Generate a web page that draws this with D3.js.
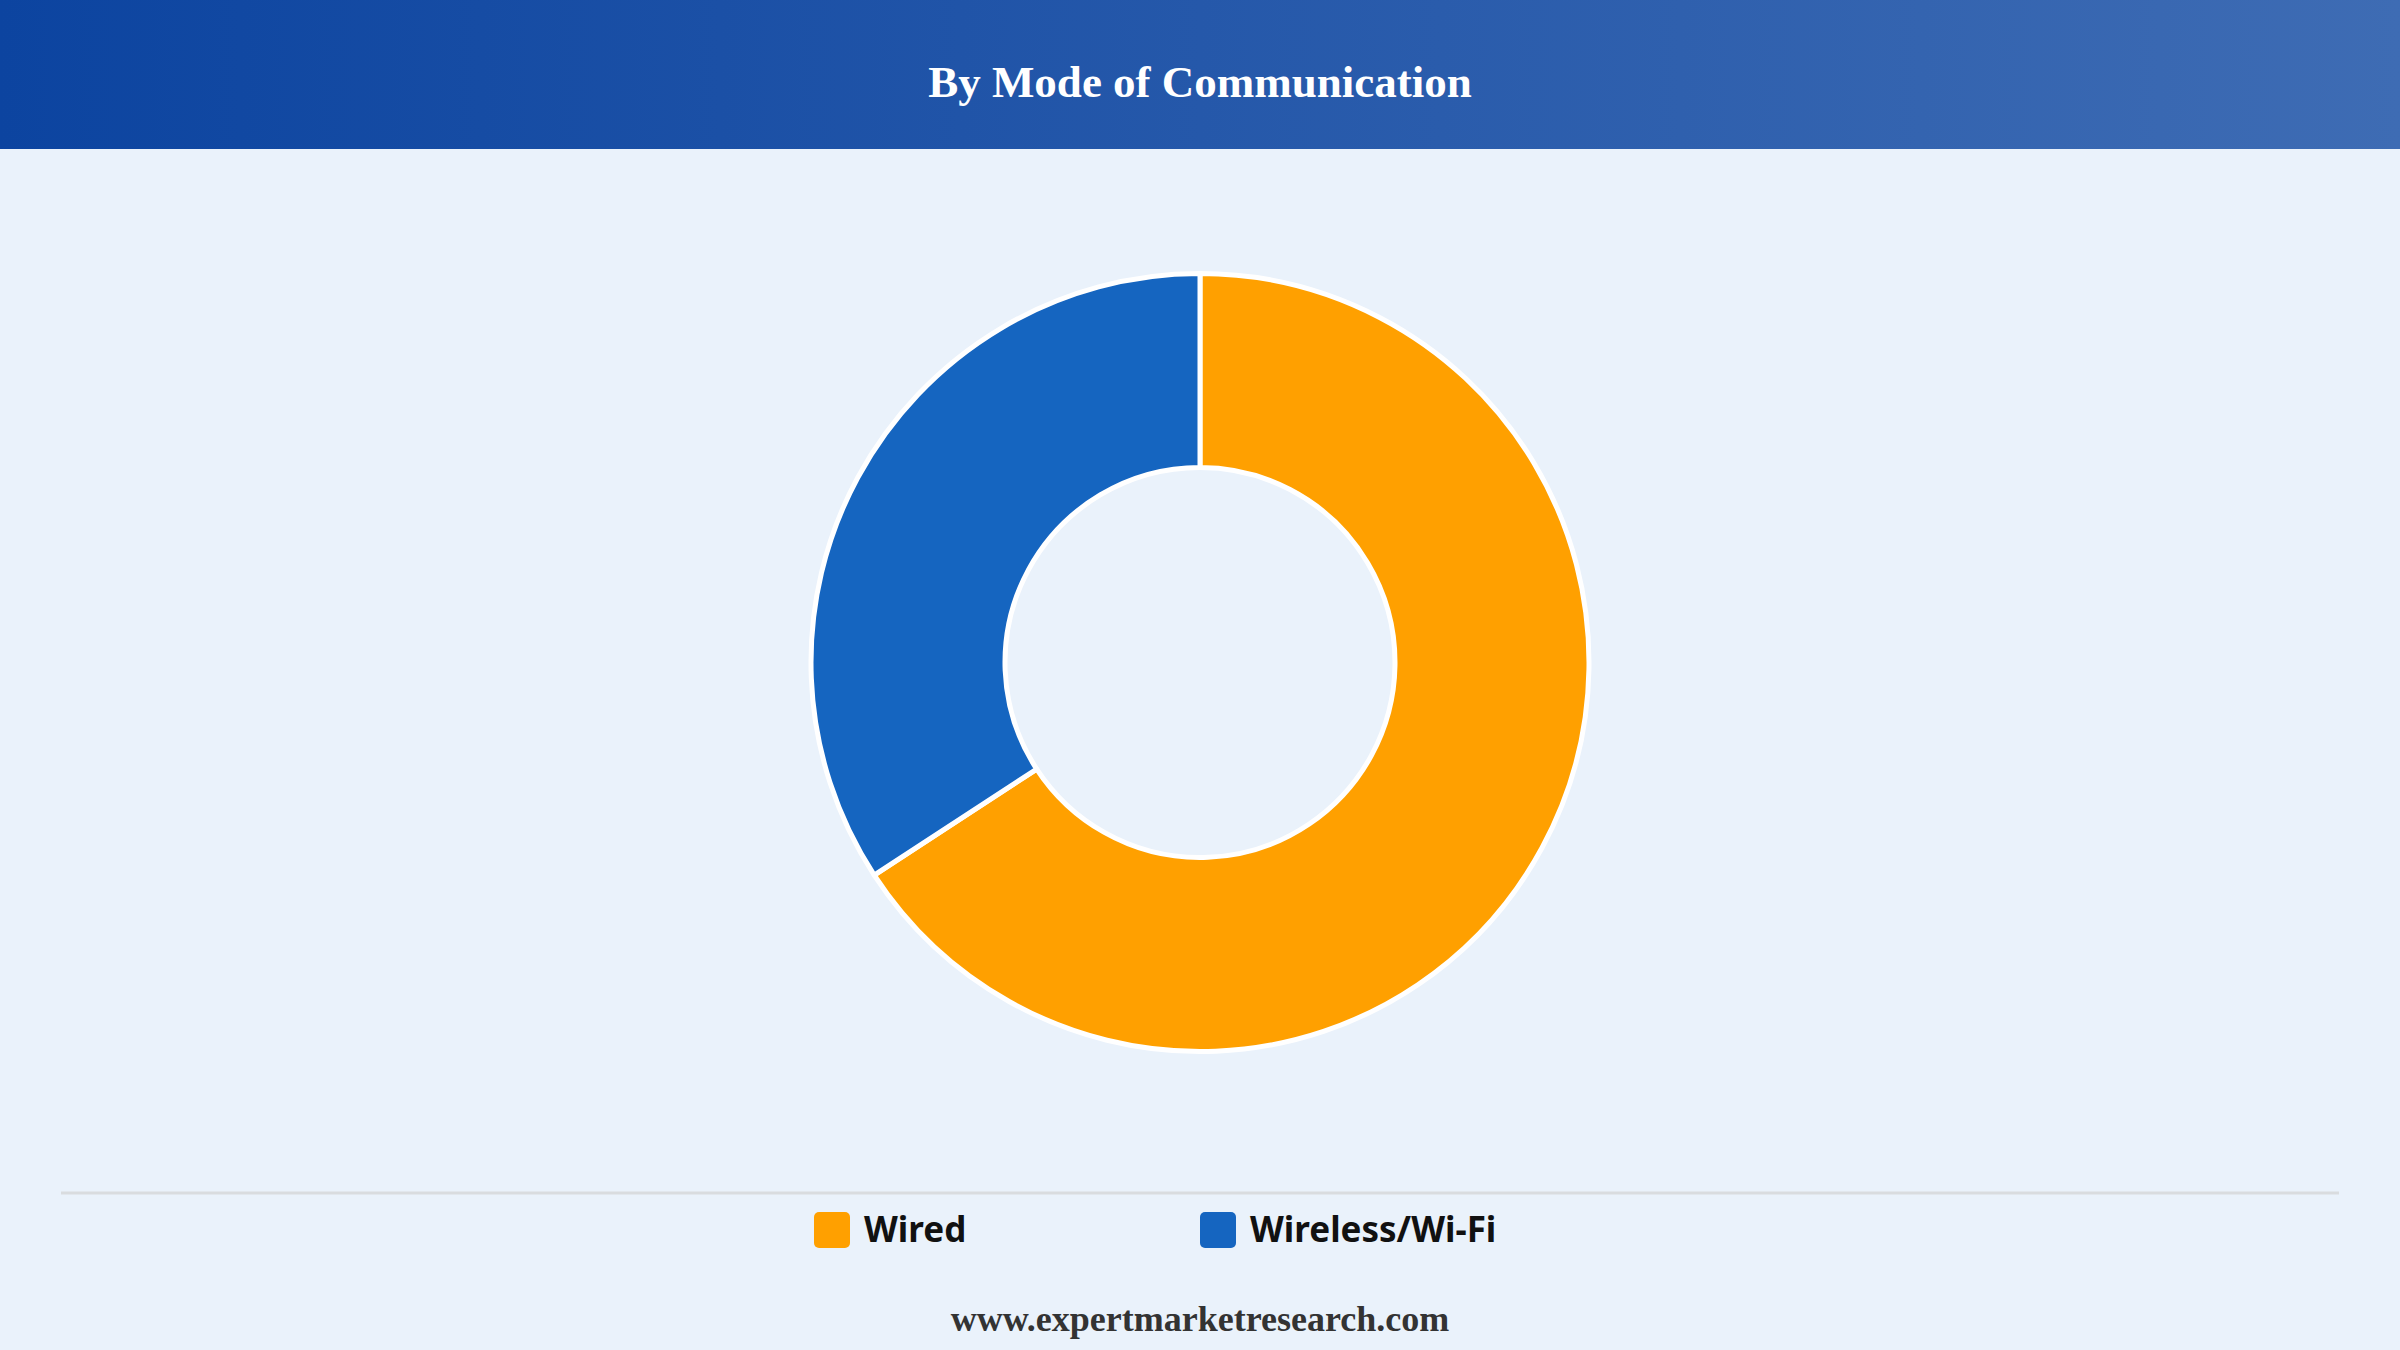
<!DOCTYPE html>
<html>
<head>
<meta charset="utf-8">
<script src="https://cdn.jsdelivr.net/npm/d3@7"></script>
<style>
  body { margin: 0; background: #eaf2fb; }
  svg { display: block; }
</style>
</head>
<body>
<div id="content"></div>
<script>
// data
var title = "By Mode of Communication";
var categories = ["Wired", "Wireless/Wi-Fi"];
var shares = [65.8, 34.2];
var colors = ["#ffa000", "#1565c0"];
var footer = "www.expertmarketresearch.com";

var width = 2400, height = 1350;

var svg = d3.select("#content").append("svg")
    .attr("width", width)
    .attr("height", height);

// header band with gradient
var defs = svg.append("defs");
var grad = defs.append("linearGradient")
    .attr("id", "hdr")
    .attr("x1", "0%").attr("x2", "100%")
    .attr("y1", "0%").attr("y2", "0%");
grad.append("stop").attr("offset", "0%").attr("stop-color", "#0c44a0");
grad.append("stop").attr("offset", "100%").attr("stop-color", "#3e6cb4");

svg.append("rect")
    .attr("width", width)
    .attr("height", height)
    .attr("fill", "#eaf2fb");
svg.append("rect")
    .attr("width", width)
    .attr("height", 149)
    .attr("fill", "url(#hdr)");
svg.append("text")
    .attr("x", width / 2)
    .attr("y", 97)
    .attr("text-anchor", "middle")
    .style("font-family", "'Liberation Serif', 'Times New Roman', serif")
    .style("font-weight", "bold")
    .style("font-size", "45px")
    .attr("fill", "#fff")
    .text(title);

// donut
var outerR = 389, innerR = 195;
var pie = d3.pie().sort(null).value(function (d) { return d; });
var arc = d3.arc().innerRadius(innerR).outerRadius(outerR);

var g = svg.append("g")
    .attr("transform", "translate(" + width / 2 + ",662.5)");
g.selectAll("path")
    .data(pie(shares))
    .enter().append("path")
    .attr("d", arc)
    .attr("fill", function (d, i) { return colors[i]; })
    .attr("stroke", "#fff")
    .attr("stroke-width", 5)
    .attr("stroke-linejoin", "round");

// separator
svg.append("line")
    .attr("x1", 61).attr("x2", 2339)
    .attr("y1", 1193).attr("y2", 1193)
    .attr("stroke", "#d9dcdf")
    .attr("stroke-width", 3);

// legend
var lx = d3.scalePoint()
    .domain(categories)
    .range([814, 1200]);
var leg = svg.selectAll(".legend")
    .data(categories)
    .enter().append("g")
    .attr("class", "legend")
    .attr("transform", function (d) { return "translate(" + lx(d) + ",1212)"; });
leg.append("rect")
    .attr("width", 36)
    .attr("height", 36)
    .attr("rx", 5)
    .attr("fill", function (d, i) { return colors[i]; });
leg.append("text")
    .attr("x", 50)
    .attr("y", 30)
    .style("font-family", "'Noto Sans', 'Open Sans', sans-serif")
    .style("font-weight", "bold")
    .style("font-size", "35px")
    .attr("fill", "#111")
    .text(function (d) { return d; });

// footer
svg.append("text")
    .attr("x", width / 2)
    .attr("y", 1331)
    .attr("text-anchor", "middle")
    .style("font-family", "'Liberation Serif', 'Times New Roman', serif")
    .style("font-weight", "bold")
    .style("font-size", "36px")
    .attr("fill", "#333")
    .text(footer);
</script>
</body>
</html>
